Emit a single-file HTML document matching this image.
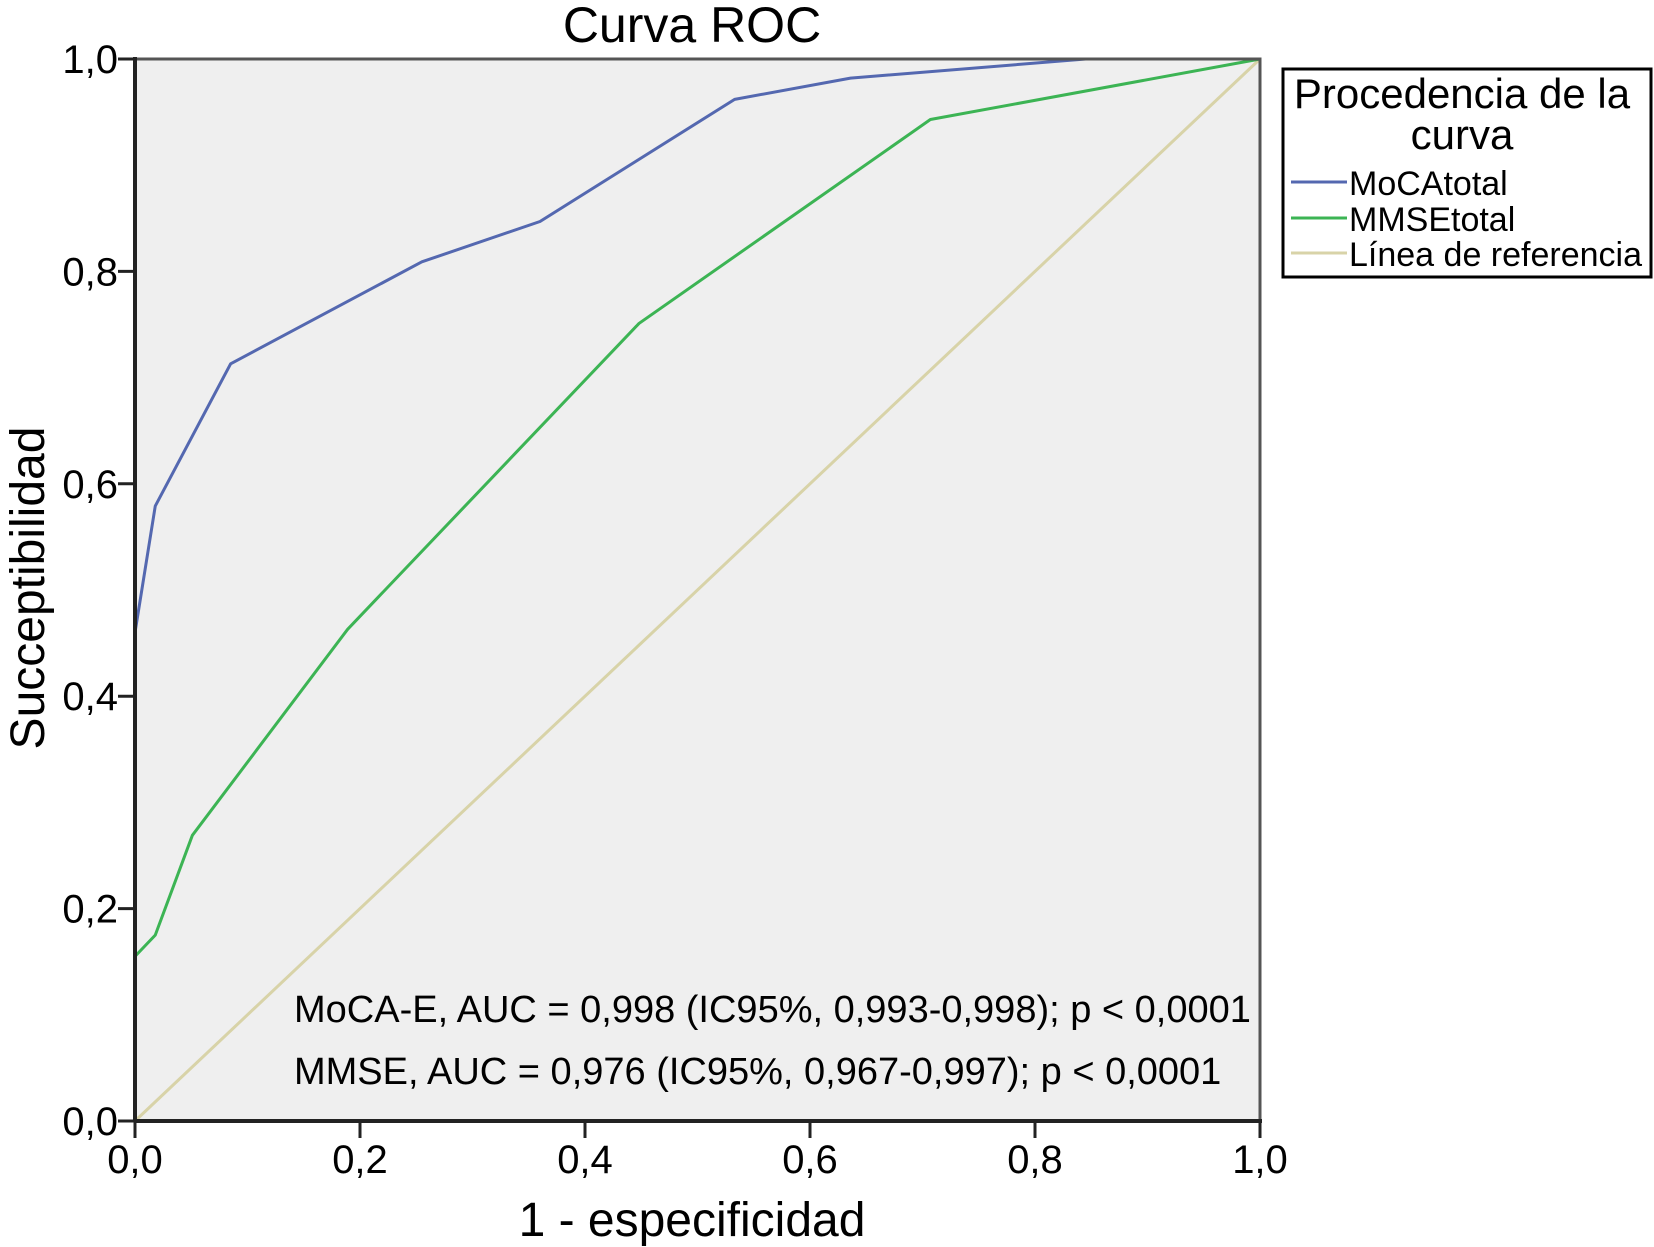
<!DOCTYPE html>
<html><head><meta charset="utf-8"><style>
html,body{margin:0;padding:0;background:#fff;}
svg{display:block;font-family:"Liberation Sans",Arial,sans-serif;}
</style></head><body>
<svg id="chart" width="1654" height="1247" viewBox="0 0 1654 1247" xmlns="http://www.w3.org/2000/svg">
<rect x="135" y="59" width="1125" height="1062" fill="#efefef"/>
<text x="692" y="42" font-size="50" text-anchor="middle" fill="#000">Curva ROC</text>
<g id="series"></g>
<rect x="135" y="59" width="1125" height="1062" fill="none" stroke="#555" stroke-width="3"/>
<line x1="135" y1="1121" x2="1262" y2="1121" stroke="#222" stroke-width="4"/>
<line x1="135" y1="57" x2="135" y2="1121" stroke="#222" stroke-width="4"/>
<g id="ticks"></g>
<text transform="translate(44,588) rotate(-90)" font-size="48" text-anchor="middle" fill="#000">Succeptibilidad</text>
<text x="692" y="1236" font-size="48" text-anchor="middle" fill="#000">1 - especificidad</text>
<text x="294" y="1022" font-size="38" fill="#000">MoCA-E, AUC = 0,998 (IC95%, 0,993-0,998); p &lt; 0,0001</text>
<text x="294" y="1084" font-size="38" fill="#000">MMSE, AUC = 0,976 (IC95%, 0,967-0,997); p &lt; 0,0001</text>
<g>
<rect x="1283" y="69" width="368" height="208" fill="#fff" stroke="#000" stroke-width="3"/>
<text x="1462" y="108" font-size="42" text-anchor="middle">Procedencia de la</text>
<text x="1462" y="149" font-size="42" text-anchor="middle">curva</text>
<line x1="1291" y1="182" x2="1347" y2="182" stroke="#5468b0" stroke-width="3"/>
<text x="1349" y="195" font-size="34">MoCAtotal</text>
<line x1="1291" y1="218" x2="1347" y2="218" stroke="#3cb454" stroke-width="3"/>
<text x="1349" y="231" font-size="34">MMSEtotal</text>
<line x1="1291" y1="253" x2="1347" y2="253" stroke="#d8d3a8" stroke-width="3"/>
<text x="1349" y="266" font-size="34">Línea de referencia</text>
</g>
</svg>
<script>
const mocaX = [0, 0, 0.018, 0.085, 0.255, 0.36, 0.533, 0.636, 0.845, 1];
const mocaY = [0, 0.46, 0.579, 0.713, 0.809, 0.847, 0.962, 0.982, 1.0, 1];
const mmseX = [0, 0, 0.018, 0.051, 0.189, 0.448, 0.707, 1];
const mmseY = [0, 0.155, 0.175, 0.269, 0.463, 0.751, 0.943, 1];
const refX = [0, 1];
const refY = [0, 1];
const tickValues = [0, 0.2, 0.4, 0.6, 0.8, 1.0];
const tickLabels = ["0,0", "0,2", "0,4", "0,6", "0,8", "1,0"];

const L = 135, R = 1260, T = 59, B = 1121;
const sx = v => L + v * (R - L);
const sy = v => B - v * (B - T);
const NS = "http://www.w3.org/2000/svg";
const series = document.getElementById('series');
const ticks = document.getElementById('ticks');

function line(xs, ys, color, name) {
  const p = document.createElementNS(NS, 'polyline');
  p.setAttribute('points', xs.map((x, i) => sx(x) + ',' + sy(ys[i])).join(' '));
  p.setAttribute('fill', 'none');
  p.setAttribute('stroke', color);
  p.setAttribute('stroke-width', '3');
  p.setAttribute('stroke-linejoin', 'round');
  
  
  series.appendChild(p);
}
line(refX, refY, '#d8d3a8', 'reference-line');
line(mmseX, mmseY, '#3cb454', 'mmse-curve');
line(mocaX, mocaY, '#5468b0', 'moca-curve');

tickValues.forEach((v, i) => {
  const tx = document.createElementNS(NS, 'line');
  tx.setAttribute('x1', sx(v)); tx.setAttribute('x2', sx(v));
  tx.setAttribute('y1', B); tx.setAttribute('y2', B + 17);
  tx.setAttribute('stroke', '#222'); tx.setAttribute('stroke-width', '3');
  
  
  ticks.appendChild(tx);
  const lx = document.createElementNS(NS, 'text');
  lx.setAttribute('x', sx(v)); lx.setAttribute('y', 1173);
  lx.setAttribute('font-size', '40'); lx.setAttribute('text-anchor', 'middle');
  lx.textContent = tickLabels[i];
  
  
  ticks.appendChild(lx);
  const ty = document.createElementNS(NS, 'line');
  ty.setAttribute('x1', L - 17); ty.setAttribute('x2', L);
  ty.setAttribute('y1', sy(v)); ty.setAttribute('y2', sy(v));
  ty.setAttribute('stroke', '#222'); ty.setAttribute('stroke-width', '3');
  
  
  ticks.appendChild(ty);
  const ly = document.createElementNS(NS, 'text');
  ly.setAttribute('x', L - 17); ly.setAttribute('y', sy(v) + 14);
  ly.setAttribute('font-size', '40'); ly.setAttribute('text-anchor', 'end');
  ly.textContent = tickLabels[i];
  
  
  ticks.appendChild(ly);
});
</script>
</body></html>
